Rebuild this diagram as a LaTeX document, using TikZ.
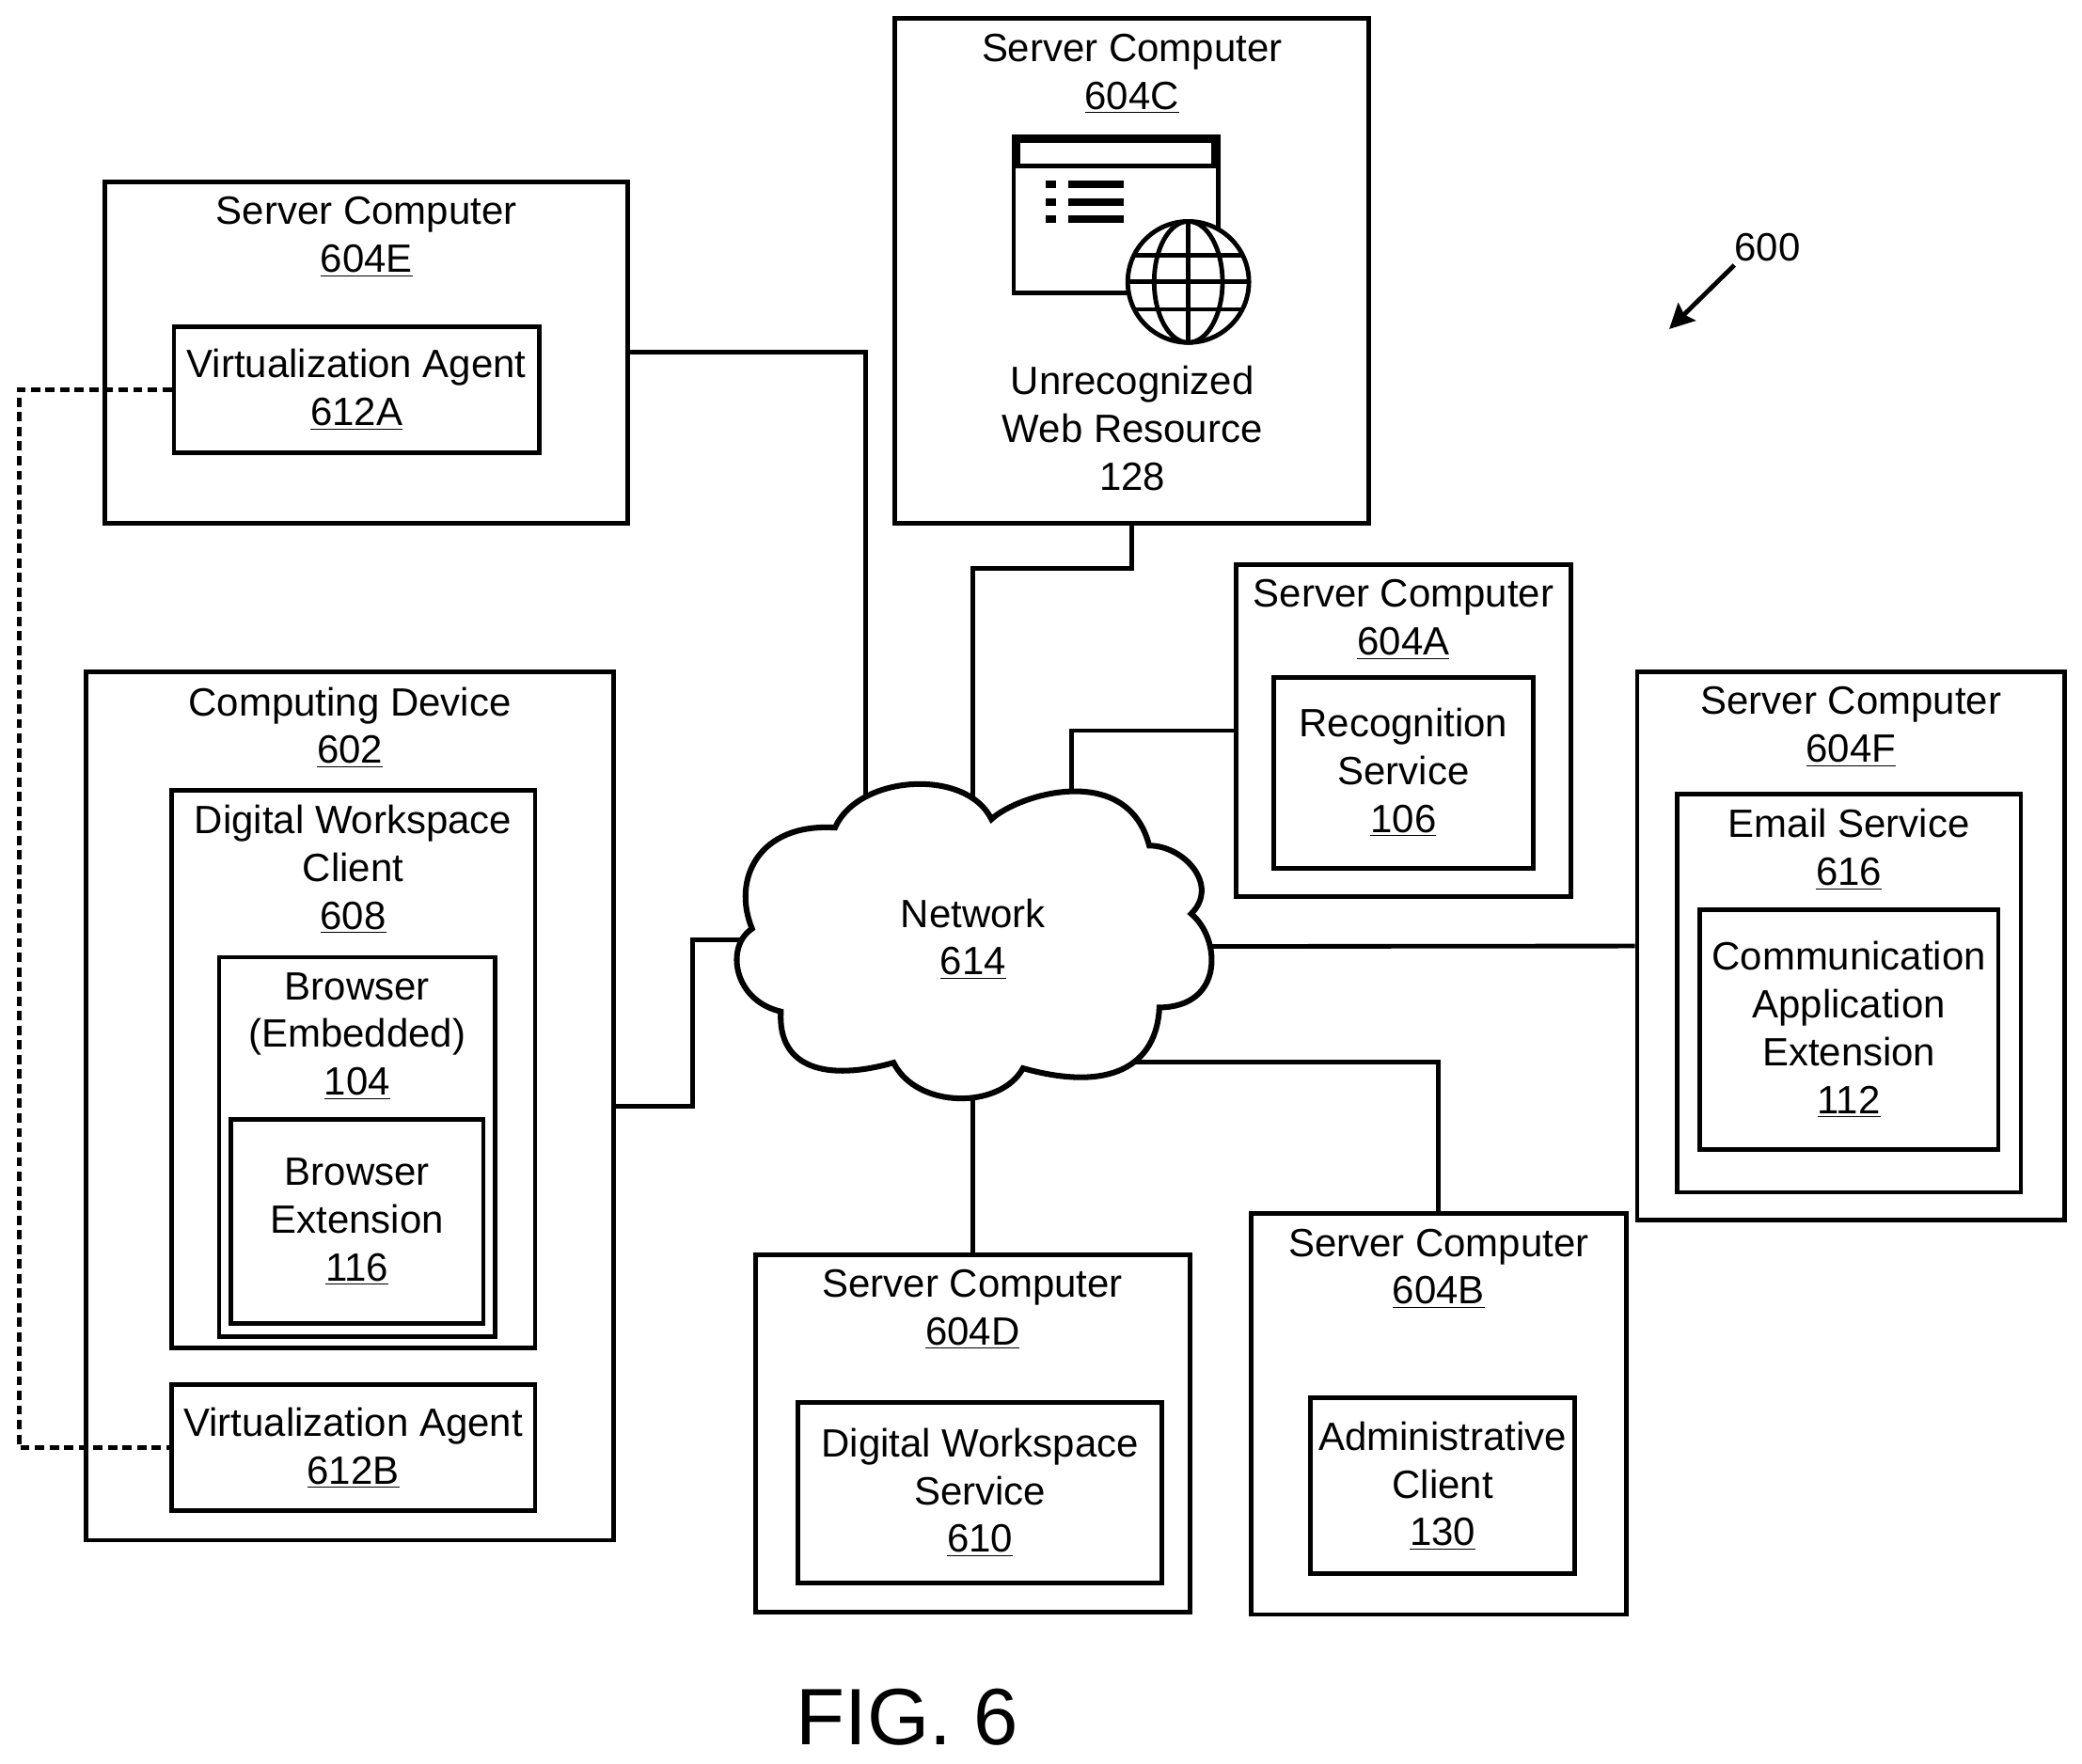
\documentclass[tikz,border=0pt]{standalone}
\usepackage{fontspec}
\usepackage{tikz}
\usetikzlibrary{arrows.meta}
\setmainfont{Liberation Sans}
\tikzset{
  box/.style={draw, inner sep=0pt, align=center},
  lab/.style={anchor=north, align=center, inner sep=8pt},
}

\begin{document}
\begin{tikzpicture}[x=1pt, y=1pt, line width=2.4pt, every node/.style={font=\fontsize{20.8}{25.2}\selectfont}]
\useasboundingbox (0,0) rectangle (1097.6,-929.6);

\node (c) [box, minimum width=249.9pt, minimum height=266pt] at (596.75,-142.8) {};
\node (ctext) [lab] at (c.north) {Server Computer\\\underline{604C}};
\node (urtext) [align=center] at (597,-225.8) {Unrecognized\\Web Resource\\128};

\node (e) [box, minimum width=275.8pt, minimum height=179.9pt] at (193.2,-185.85) {};
\node (etext) [lab] at (e.north) {Server Computer\\\underline{604E}};
\node (vaa) [box, minimum width=192.5pt, minimum height=66.5pt] at (187.95,-205.45) {Virtualization Agent\\\underline{612A}};

\node (a) [box, minimum width=176.4pt, minimum height=175pt] at (739.9,-385.2) {};
\node (atext) [lab] at (a.north) {Server Computer\\\underline{604A}};
\node (rec) [box, minimum width=137.2pt, minimum height=100.8pt] at (739.9,-407.4) {Recognition\\Service\\\underline{106}};

\node (f) [box, minimum width=225.4pt, minimum height=289.1pt] at (975.8,-498.75) {};
\node (ftext) [lab] at (f.north) {Server Computer\\\underline{604F}};
\node (em) [box, minimum width=181.3pt, minimum height=210pt] at (974.75,-523.6) {};
\node (emtext) [lab] at (em.north) {Email Service\\\underline{616}};
\node (com) [box, minimum width=157.5pt, minimum height=126.7pt] at (974.75,-542.85) {Communication\\Application\\Extension\\\underline{112}};

\node (dev) [box, minimum width=277.9pt, minimum height=457.8pt] at (184.45,-583.1) {};
\node (devtext) [lab] at (dev.north) {Computing Device\\\underline{602}};
\node (dwc) [box, minimum width=191.8pt, minimum height=294pt] at (186.2,-563.5) {};
\node (dwctext) [lab] at (dwc.north) {Digital Workspace\\Client\\\underline{608}};
\node (br) [box, minimum width=145.6pt, minimum height=200.2pt] at (188.3,-604.8) {};
\node (brtext) [lab] at (br.north) {Browser\\(Embedded)\\\underline{104}};
\node (ext) [box, minimum width=133pt, minimum height=107.8pt] at (188.3,-644) {Browser\\Extension\\\underline{116}};
\node (vab) [box, minimum width=191.8pt, minimum height=66.5pt] at (186.2,-763.35) {Virtualization Agent\\\underline{612B}};

\node (d) [box, minimum width=228.9pt, minimum height=188.3pt] at (512.75,-755.65) {};
\node (dtext) [lab] at (d.north) {Server Computer\\\underline{604D}};
\node (dws) [box, minimum width=191.8pt, minimum height=95.2pt] at (516.6,-786.8) {Digital Workspace\\Service\\\underline{610}};

\node (b) [box, minimum width=198.1pt, minimum height=211.4pt] at (758.45,-745.5) {};
\node (btext) [lab] at (b.north) {Server Computer\\\underline{604B}};
\node (adm) [box, minimum width=139.3pt, minimum height=92.4pt] at (760.55,-783.3) {Administrative\\Client\\\underline{130}};

\coordinate (cl1) at (456.4,-440);
\coordinate (cl2) at (512.75,-440);
\coordinate (cl3) at (565,-440);
\coordinate (cl4) at (620,-499);
\coordinate (cl5) at (410,-495.6);
\coordinate (cl6) at (512.75,-560);
\coordinate (cl7) at (580,-560);

\draw (e.east) -| (cl1);
\draw (c.south) -- ++(0,-22.6) -| (cl2);
\draw (a.west) -| (cl3);
\draw (f.west) -- (cl4);
\draw (dev.east) -- ++(40.6,0) |- (cl5);
\draw (d.north) -- (cl6);
\draw (b.north) |- (cl7);
\draw[dash pattern=on 4.9pt off 2.8pt] (vaa.west) -- ++(-80.5,0) |- (vab.west);

\begin{scope}[shift={(375.95,-398.4)}, x=0.1785pt, y=-0.1635pt]
\draw[fill=white, line join=miter, line width=3pt] (115,558) .. controls (55,400) and (133,217) .. (360,232)
  .. controls (430,60) and (749,40) .. (822,205)
  .. controls (900,125) and (1223,17) .. (1288,290)
  .. controls (1390,290) and (1497,417) .. (1412,510)
  .. controls (1500,590) and (1510,810) .. (1318,812)
  .. controls (1310,1000) and (1173,1087) .. (915,1008)
  .. controls (850,1140) and (602,1141) .. (533,990)
  .. controls (339,1050) and (190,1011) .. (200,825)
  .. controls (60,790) and (35,615) .. (115,558) -- cycle;
\end{scope}
\node (net) [align=center] at (513,-495) {Network\\\underline{614}};

\begin{scope}[shift={(515.9,-60.2)}, x=0.1638pt, y=-0.1638pt]
\draw (113,72) rectangle (772,575);
\fill (107,65) rectangle (778,173);
\fill[white] (135,93) rectangle (750,160);
\foreach \y in {215,272,327} {
  \fill (216,\y) rectangle ++(32,22);
  \fill (288,\y) rectangle ++(180,22);
}
\draw[fill=white] (675,540) circle [x radius=195, y radius=195];
\draw (675,540) circle [x radius=110, y radius=195];
\draw (675,345) -- (675,735);
\draw (480,540) -- (870,540);
\draw (500,453) -- (850,453);
\draw (500,628) -- (850,628);
\end{scope}

\node (n600) at (931.7,-130.2) {600};
\coordinate (a600) at (880,-173.5);
\draw[-{Stealth[length=13pt, width=13pt, inset=2pt]}] ([shift={(4.5,2.3)}]n600.south west) -- (a600);

\node (fig) [font=\fontsize{42.2}{48}\selectfont] at (478.4,-905.5) {FIG. 6};
\end{tikzpicture}
\end{document}
